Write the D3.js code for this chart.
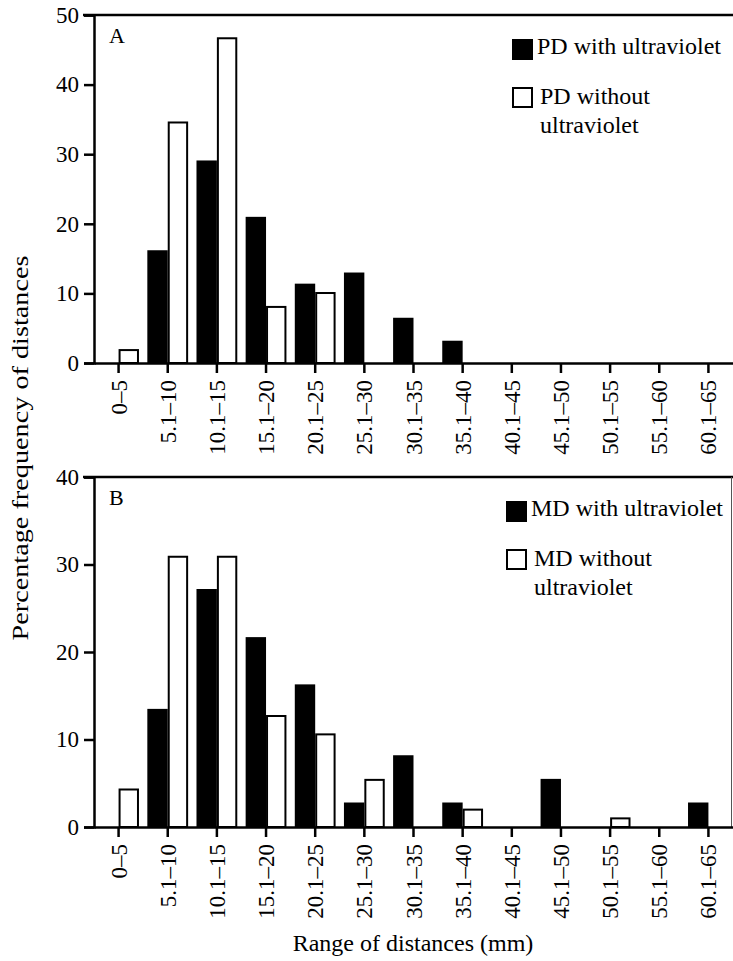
<!DOCTYPE html>
<html>
<head>
<meta charset="utf-8">
<script src="https://cdn.jsdelivr.net/npm/d3@7"></script>
<style>
  body { margin: 0; background: #fff; }
  text { font-family: "Liberation Serif", "Times New Roman", serif; fill: #000; }
</style>
</head>
<body>
<div id="chart"></div>
<script>
// Data
const categories = ["0–5", "5.1–10", "10.1–15", "15.1–20", "20.1–25", "25.1–30", "30.1–35",
    "35.1–40", "40.1–45", "45.1–50", "50.1–55", "55.1–60", "60.1–65"];
const pdWith    = [0, 16.2, 29.1, 21.0, 11.4, 13.0, 6.5, 3.2, 0, 0, 0, 0, 0];
const pdWithout = [2.0, 34.7, 46.8, 8.2, 10.2, 0, 0, 0, 0, 0, 0, 0, 0];
const mdWith    = [0, 13.5, 27.2, 21.7, 16.3, 2.8, 8.2, 2.8, 0, 5.5, 0, 0, 2.8];
const mdWithout = [4.4, 31.0, 31.0, 12.8, 10.7, 5.5, 0, 2.1, 0, 0, 1.1, 0, 0];
const ticksA = [0, 10, 20, 30, 40, 50];
const ticksB = [0, 10, 20, 30, 40];

const W = 733, H = 961;
const left = 94, right = 733;
const serif = "'Liberation Serif', 'Times New Roman', serif";

const svg = d3.select("#chart")
    .append("svg")
    .attr("width", W)
    .attr("height", H);

const x = d3.scaleBand()
    .domain(categories)
    .range([left, right])
    .padding(0);
const barW = x.step() * 0.415;

function panel(opts) {
    const y = d3.scaleLinear()
        .domain([0, opts.max])
        .range([opts.bottom, opts.top]);

    const g = svg.append("g");

    // bars: black = with UV (left of tick), white = without UV (right of tick)
    const rows = categories.map((c, i) => ({c: c, w: opts.withUV[i], wo: opts.withoutUV[i]}));

    g.selectAll("rect.with")
        .data(rows.filter(d => d.w > 0))
        .enter()
        .append("rect")
        .attr("x", d => x(d.c) + x.bandwidth() / 2 - barW)
        .attr("y", d => y(d.w))
        .attr("width", barW)
        .attr("height", d => y(0) - y(d.w))
        .attr("fill", "#000");

    g.selectAll("rect.without")
        .data(rows.filter(d => d.wo > 0))
        .enter()
        .append("rect")
        .attr("x", d => x(d.c) + x.bandwidth() / 2 + 1)
        .attr("y", d => y(d.wo) + 1)
        .attr("width", barW - 2)
        .attr("height", d => y(0) - y(d.wo) - 1)
        .attr("fill", "#fff")
        .attr("stroke", "#000")
        .attr("stroke-width", 2);

    // top border
    g.append("line")
        .attr("x1", left - 11).attr("x2", right)
        .attr("y1", opts.top).attr("y2", opts.top)
        .attr("stroke", "#000").attr("stroke-width", 2.5);
    if (opts.rightBorder) {
        g.append("line")
            .attr("x1", right - 1.5).attr("x2", right - 1.5)
            .attr("y1", opts.top).attr("y2", opts.bottom)
            .attr("stroke", "#555").attr("stroke-width", 1);
    }

    // y axis
    const yAxis = g.append("g")
        .attr("transform", `translate(${left},0)`)
        .call(d3.axisLeft(y).tickValues(opts.ticks).tickSize(10).tickPadding(5));
    yAxis.select(".domain").attr("stroke-width", 2.5);
    yAxis.selectAll(".tick line").attr("stroke-width", 2.5);
    yAxis.selectAll("text")
        .style("font-size", "23px")
        .style("font-family", serif);

    // x axis
    const xAxis = g.append("g")
        .attr("transform", `translate(0,${opts.bottom})`)
        .call(d3.axisBottom(x).tickSize(10).tickSizeOuter(0).tickPadding(6));
    xAxis.select(".domain").attr("stroke-width", 2.5);
    xAxis.selectAll(".tick line").attr("stroke-width", 2.5);
    xAxis.selectAll("text")
        .style("font-size", "23px")
        .style("font-family", serif)
        .attr("text-anchor", "end")
        .attr("transform", "rotate(-90)")
        .attr("x", -17)
        .attr("y", 0)
        .attr("dy", "0.35em");

    // panel letter
    g.append("text")
        .attr("x", 109)
        .attr("y", opts.top + 28)
        .style("font-size", "22px")
        .text(opts.letter);

    // legend
    const lx = opts.legendX;
    g.append("rect")
        .attr("x", lx).attr("y", opts.top + 24)
        .attr("width", 21).attr("height", 21)
        .attr("fill", "#000");
    g.append("text")
        .attr("x", lx + 25).attr("y", opts.top + 39)
        .style("font-size", "24px")
        .text(opts.name + " with ultraviolet");
    g.append("rect")
        .attr("x", lx + 1).attr("y", opts.top + 73)
        .attr("width", 19).attr("height", 19)
        .attr("fill", "#fff")
        .attr("stroke", "#000").attr("stroke-width", 2);
    g.append("text")
        .attr("x", lx + 28).attr("y", opts.top + 89)
        .style("font-size", "24px")
        .text(opts.name + " without");
    g.append("text")
        .attr("x", lx + 28).attr("y", opts.top + 118)
        .style("font-size", "24px")
        .text("ultraviolet");
}

panel({letter: "A", name: "PD", top: 15, bottom: 363, max: 50, ticks: ticksA,
    withUV: pdWith, withoutUV: pdWithout, legendX: 512, rightBorder: false});
panel({letter: "B", name: "MD", top: 477, bottom: 827, max: 40, ticks: ticksB,
    withUV: mdWith, withoutUV: mdWithout, legendX: 506, rightBorder: true});

// axis titles
svg.append("text")
    .attr("transform", "translate(28,448) rotate(-90)")
    .attr("text-anchor", "middle")
    .attr("textLength", 385)
    .attr("lengthAdjust", "spacingAndGlyphs")
    .style("font-size", "24px")
    .text("Percentage frequency of distances");

svg.append("text")
    .attr("x", 413)
    .attr("y", 951)
    .attr("text-anchor", "middle")
    .style("font-size", "24px")
    .text("Range of distances (mm)");
</script>
</body>
</html>
